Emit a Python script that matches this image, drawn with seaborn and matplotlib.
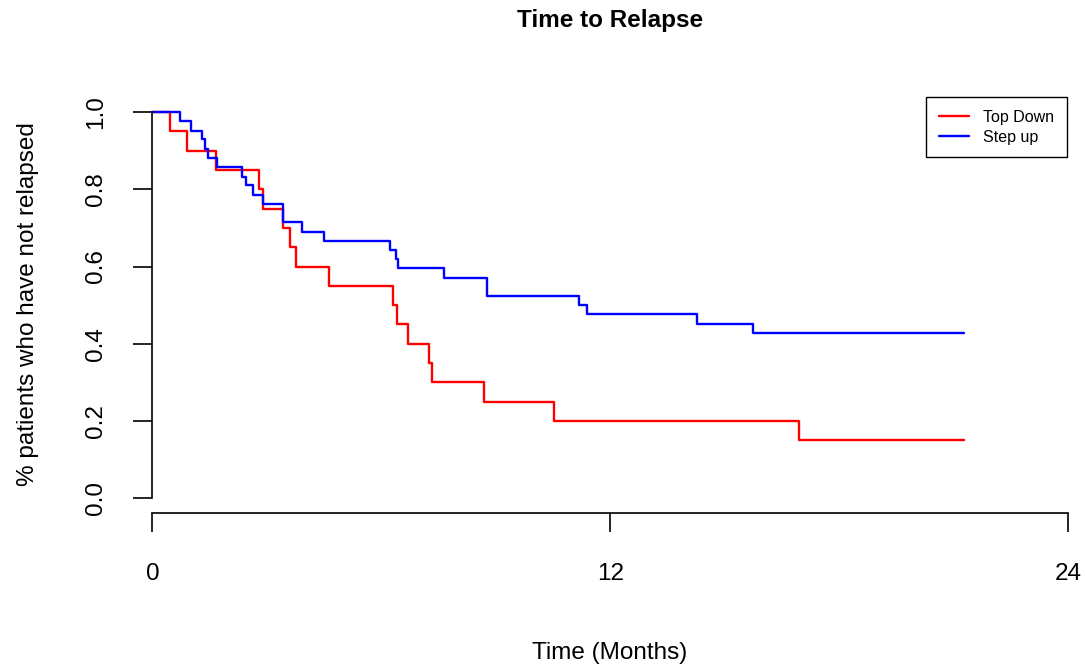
import pandas as pd
import seaborn as sns
import matplotlib.pyplot as plt

# Kaplan-Meier step points (months, proportion relapse-free)
top_down_months = [0, 0.45, 0.90, 1.67, 2.79, 2.90, 3.43, 3.62, 3.77, 4.63,
                   6.31, 6.40, 6.69, 7.26, 7.34, 8.69, 10.53, 16.95, 21.28]
top_down_surv = [1.0, 0.95, 0.90, 0.85, 0.80, 0.75, 0.70, 0.65, 0.60, 0.55,
                 0.50, 0.45, 0.40, 0.35, 0.30, 0.25, 0.20, 0.15, 0.15]

step_up_months = [0, 0.73, 1.02, 1.30, 1.39, 1.45, 1.69, 2.35, 2.46, 2.63,
                  2.91, 3.43, 3.93, 4.49, 6.22, 6.38, 6.44, 7.64, 8.76, 11.19,
                  11.40, 14.27, 15.74, 21.28]
step_up_surv = [1.0, 0.976, 0.952, 0.929, 0.905, 0.881, 0.857, 0.833, 0.810, 0.786,
                0.762, 0.714, 0.690, 0.667, 0.643, 0.619, 0.595, 0.571, 0.524, 0.500,
                0.476, 0.452, 0.429, 0.429]

groups = ['Top Down', 'Step up']
colors = ['#ff0000', '#0000ff']
x_ticks = [0, 12, 24]
y_ticks = [0.0, 0.2, 0.4, 0.6, 0.8, 1.0]

df = pd.concat([
    pd.DataFrame({'months': top_down_months, 'surv': top_down_surv, 'group': groups[0]}),
    pd.DataFrame({'months': step_up_months, 'surv': step_up_surv, 'group': groups[1]}),
], ignore_index=True)

sns.set_style('ticks')
plt.rcParams['font.family'] = ['Liberation Sans', 'DejaVu Sans']
plt.rcParams['text.color'] = 'black'

fig = plt.figure(figsize=(10.85, 6.7), dpi=100)
ax = fig.add_axes([0.1404, 0.2339, 0.844, 0.622])

sns.lineplot(data=df, x='months', y='surv', hue='group', hue_order=groups,
             palette=dict(zip(groups, colors)), drawstyle='steps-post',
             estimator=None, sort=False, linewidth=1.7, legend=False, ax=ax)

ax.set_xlim(0, 24)
ax.set_ylim(-0.0388, 1.04)
ax.set_xticks(x_ticks)
ax.set_yticks(y_ticks)
ax.set_yticklabels([f'{v:.1f}' for v in y_ticks], rotation=90, va='center')

for side in ['top', 'right']:
    ax.spines[side].set_visible(False)
ax.spines['left'].set_bounds(0, 1)
ax.spines['bottom'].set_bounds(0, 24)
for side in ['left', 'bottom']:
    ax.spines[side].set_linewidth(1.2)
    ax.spines[side].set_color('black')

ax.tick_params(length=13.7, width=1.2, color='black', labelsize=17.5, labelcolor='black')
ax.tick_params(axis='x', pad=22)
ax.tick_params(axis='y', pad=19)

ax.set_xlabel('')
ax.set_ylabel('')
fig.text(610 / 1085, 1 - 653 / 670, 'Time (Months)', ha='center', va='center', fontsize=17.5)
fig.text(28 / 1085, 1 - 304 / 670, '% patients who have not relapsed', ha='center', va='center',
         rotation=90, fontsize=17.5)
fig.text(610 / 1085, 1 - 21 / 670, 'Time to Relapse', ha='center', va='center',
         fontsize=17.5, fontweight='bold')

handles = [plt.Line2D([], [], color=c, lw=1.7) for c in colors]
leg = ax.legend(handles, groups, loc='upper right', bbox_to_anchor=(1067 / 1085, 1 - 97 / 670),
                bbox_transform=fig.transFigure, fontsize=11.5, frameon=True, fancybox=False,
                edgecolor='black', framealpha=1, borderaxespad=0, handlelength=1.9,
                handletextpad=0.9, labelspacing=0.3, borderpad=0.8)
leg.get_frame().set_linewidth(1.0)

fig.savefig('out.png', dpi=100, facecolor='white')
